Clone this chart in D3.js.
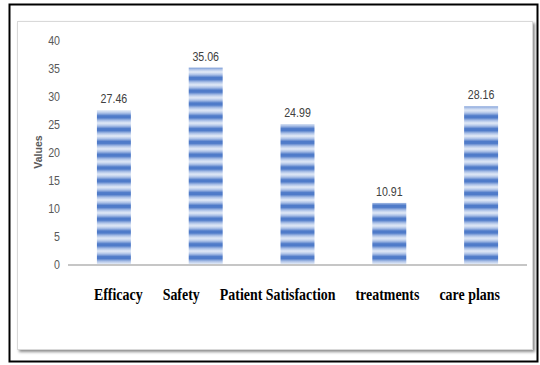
<!DOCTYPE html>
<html>
<head>
<meta charset="utf-8">
<script src="https://cdn.jsdelivr.net/npm/d3@7"></script>
<style>
  html, body { margin: 0; padding: 0; background: #fff; }
  svg { display: block; }
</style>
</head>
<body>
<svg id="chart" width="540" height="365"></svg>
<script>
// Chart data
const categories = ["Efficacy", "Safety", "Patient Satisfaction", "treatments", "care plans"];
const values = [27.46, 35.06, 24.99, 10.91, 28.16];
const yTicks = [0, 5, 10, 15, 20, 25, 30, 35, 40];
const yTitle = "Values";

const W = 540, H = 365;
const svg = d3.select("#chart");
const sans = "'Liberation Sans', Arial, sans-serif";
const condense = 0.82; // horizontal squeeze for the narrow label faces

// Outer black frame
svg.append("rect")
  .attr("x", 9.5).attr("y", 4.5).attr("width", 528).attr("height", 357)
  .attr("fill", "#fff").attr("stroke", "#000").attr("stroke-width", 2);

// Inner panel with a soft drop shadow on the right and bottom
const defs = svg.append("defs");
const sh = defs.append("filter").attr("id", "shadow")
  .attr("x", "-5%").attr("y", "-5%").attr("width", "110%").attr("height", "110%");
sh.append("feDropShadow").attr("dx", 2).attr("dy", 2).attr("stdDeviation", 1.6)
  .attr("flood-color", "#000").attr("flood-opacity", 0.45);

svg.append("rect")
  .attr("x", 17.5).attr("y", 21.5).attr("width", 515).attr("height", 328)
  .attr("fill", "#fff").attr("stroke", "#d9d9d9").attr("stroke-width", 1)
  .attr("filter", "url(#shadow)");

// Plot area
const margin = { left: 68, right: 13, top: 40, bottom: 101 };
const x = d3.scaleBand()
  .domain(categories)
  .range([margin.left, W - margin.right])
  .paddingInner(0.63).paddingOuter(0.315);
const y = d3.scaleLinear().domain([0, 40]).range([H - margin.bottom, margin.top]);

// Horizontal stripe fill for the bars
const grad = defs.append("linearGradient").attr("id", "stripeGrad")
  .attr("x1", 0).attr("y1", 0).attr("x2", 0).attr("y2", 1);
[[0, "#e4ebf7"], [0.22, "#a9bfe6"], [0.42, "#4f7bc9"], [0.58, "#4f7bc9"], [0.78, "#a9bfe6"], [1, "#e4ebf7"]]
  .forEach(([o, c]) => grad.append("stop").attr("offset", o).attr("stop-color", c));
const period = 12.8;
const pat = defs.append("pattern").attr("id", "stripes")
  .attr("patternUnits", "userSpaceOnUse")
  .attr("x", 0).attr("y", y(0)).attr("width", 10).attr("height", period);
pat.append("rect").attr("width", 10).attr("height", period).attr("fill", "url(#stripeGrad)");

// Y axis labels
svg.append("g").selectAll("text").data(yTicks).join("text")
  .attr("transform", d => `translate(${margin.left - 8},${y(d)}) scale(${condense},1)`)
  .attr("dy", "0.35em")
  .attr("text-anchor", "end")
  .attr("font-family", sans).attr("font-size", 13).attr("fill", "#595959")
  .text(d => d);

// Y axis title
svg.append("text")
  .attr("transform", `translate(42,${(y(0) + y(40)) / 2}) rotate(-90)`)
  .attr("text-anchor", "middle")
  .attr("font-family", sans).attr("font-weight", "bold")
  .attr("font-size", 10.5).attr("fill", "#595959")
  .text(yTitle);

// Bars
svg.append("g").selectAll("rect").data(values).join("rect")
  .attr("x", (d, i) => x(categories[i]))
  .attr("y", d => y(d))
  .attr("width", x.bandwidth())
  .attr("height", d => y(0) - y(d))
  .attr("fill", "url(#stripes)");

// Baseline
svg.append("line")
  .attr("x1", margin.left).attr("x2", W - margin.right)
  .attr("y1", y(0) + 1).attr("y2", y(0) + 1)
  .attr("stroke", "#c6c6c6").attr("stroke-width", 2);

// Value labels
svg.append("g").selectAll("text").data(values).join("text")
  .attr("transform", (d, i) =>
    `translate(${x(categories[i]) + x.bandwidth() / 2},${y(d) - 7}) scale(${condense},1)`)
  .attr("text-anchor", "middle")
  .attr("font-family", sans).attr("font-size", 13).attr("fill", "#404040")
  .text(d => d.toFixed(2));

// Category captions set as one flowing row beneath the axis
const capRow = svg.append("g");
let cx = x(categories[0]) - 3;
categories.forEach(c => {
  const t = capRow.append("text")
    .attr("transform", `translate(${cx},${y(0) + 36}) scale(${condense},1)`)
    .attr("font-family", "'Liberation Serif', 'Times New Roman', serif")
    .attr("font-weight", "bold").attr("font-size", 17).attr("fill", "#000")
    .text(c);
  cx += t.node().getComputedTextLength() * condense + 20;
});
</script>
</body>
</html>
